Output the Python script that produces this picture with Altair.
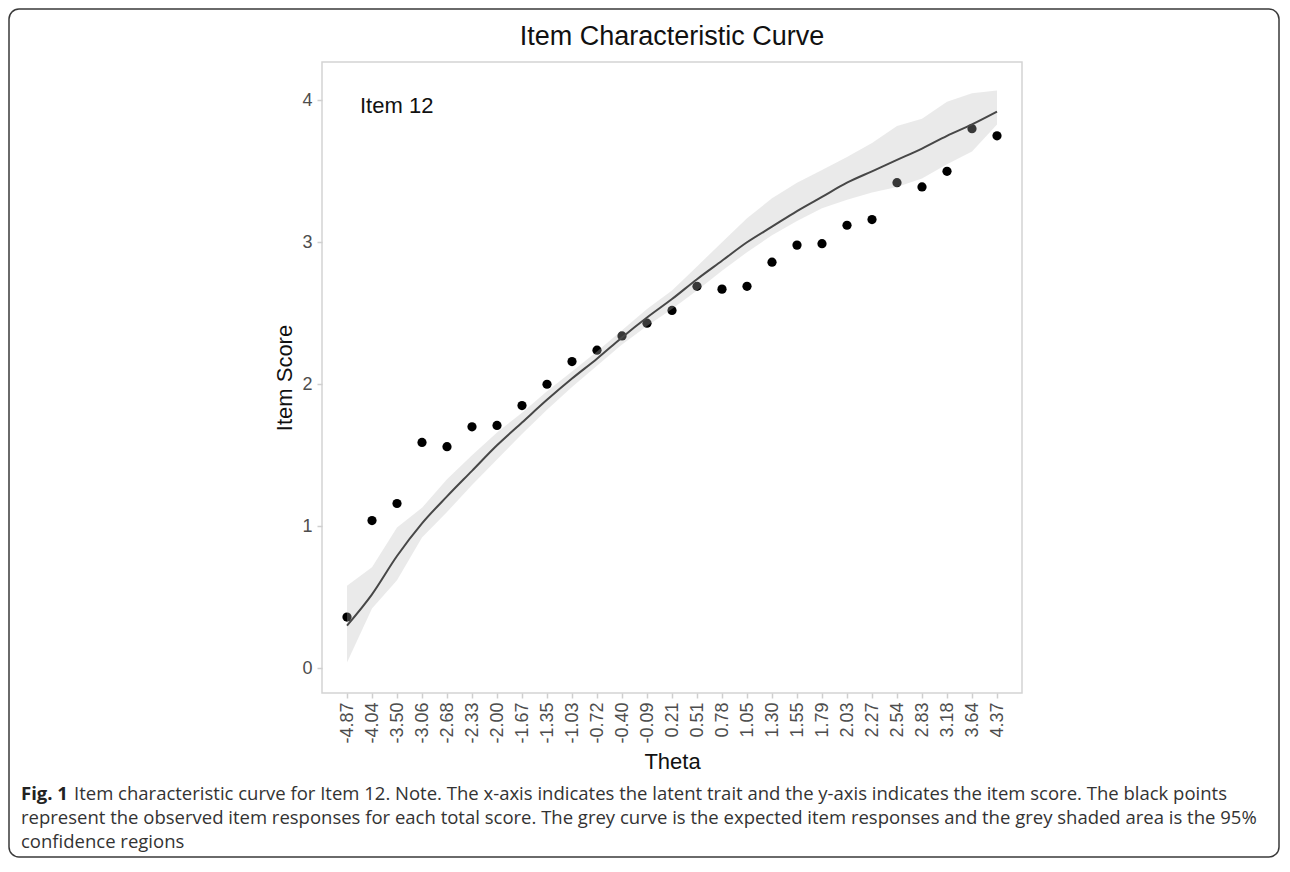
import altair as alt
import pandas as pd

theta_labels = ["-4.87", "-4.04", "-3.50", "-3.06", "-2.68", "-2.33", "-2.00", "-1.67",
                "-1.35", "-1.03", "-0.72", "-0.40", "-0.09", "0.21", "0.51", "0.78",
                "1.05", "1.30", "1.55", "1.79", "2.03", "2.27", "2.54", "2.83",
                "3.18", "3.64", "4.37"]
observed = [0.36, 1.04, 1.16, 1.59, 1.56, 1.70, 1.71, 1.85, 2.00, 2.16, 2.24, 2.34, 2.43,
            2.52, 2.69, 2.67, 2.69, 2.86, 2.98, 2.99, 3.12, 3.16, 3.42, 3.39, 3.50, 3.80, 3.75]
expected = [0.30, 0.52, 0.79, 1.02, 1.21, 1.39, 1.57, 1.73, 1.89, 2.04, 2.18, 2.33, 2.47,
            2.60, 2.74, 2.87, 3.00, 3.11, 3.22, 3.32, 3.42, 3.50, 3.58, 3.66, 3.75, 3.83, 3.92]
ci_upper = [0.58, 0.71, 0.99, 1.13, 1.33, 1.50, 1.66, 1.80, 1.95, 2.09, 2.23, 2.38, 2.53,
            2.66, 2.83, 3.00, 3.17, 3.31, 3.42, 3.51, 3.60, 3.70, 3.82, 3.87, 3.99, 4.05, 4.07]
ci_lower = [0.04, 0.42, 0.62, 0.92, 1.10, 1.29, 1.47, 1.65, 1.82, 1.98, 2.13, 2.28, 2.41,
            2.53, 2.66, 2.80, 2.93, 3.05, 3.15, 3.24, 3.30, 3.35, 3.39, 3.45, 3.55, 3.64, 3.83]

y_ticks = [0, 1, 2, 3, 4]
chart_title = "Item Characteristic Curve"
panel_label = "Item 12"
caption_bold = "Fig. 1"
caption_lines = [
    "Item characteristic curve for Item 12. Note. The x-axis indicates the latent trait and the y-axis indicates the item score. The black points",
    "represent the observed item responses for each total score. The grey curve is the expected item responses and the grey shaded area is the 95%",
    "confidence regions",
]

df = pd.DataFrame({
    "theta": theta_labels,
    "observed": observed,
    "expected": expected,
    "upper": ci_upper,
    "lower": ci_lower,
})

FONT = "Liberation Sans"
CAP_FONT = "Open Sans"

x_axis = alt.Axis(
    title="Theta", titleFont=FONT, titleFontSize=22, titleFontWeight="normal",
    titleColor="#111111", titleY=75, titleBaseline="alphabetic",
    labelFont=FONT, labelFontSize=18, labelColor="#4d4d4d", labelAngle=270,
    labelPadding=4, tickColor="#cfcfcf", tickSize=5, tickWidth=1.5,
    domain=False, grid=False,
)
y_axis = alt.Axis(
    title="Item Score", titleFont=FONT, titleFontSize=22, titleFontWeight="normal",
    titleColor="#111111", titleAngle=270, titleX=-31, titleY=315.5,
    titleBaseline="alphabetic", titleAlign="center",
    labelFont=FONT, labelFontSize=18, labelColor="#4d4d4d", labelPadding=5,
    tickColor="#cfcfcf", tickSize=5, tickWidth=1.5, values=y_ticks,
    domain=False, grid=False,
)

x_enc = alt.X("theta:O", sort=theta_labels,
              scale=alt.Scale(type="point", padding=1.28), axis=x_axis)
y_scale = alt.Scale(domain=[-0.175, 4.27], nice=False, zero=False)

base = alt.Chart(df)

points = base.mark_circle(size=85, color="#000000", opacity=1).encode(
    x=x_enc, y=alt.Y("observed:Q", scale=y_scale, axis=y_axis))
ribbon = base.mark_area(color="#b8b8b8", opacity=0.3).encode(
    x=x_enc, y=alt.Y("upper:Q", scale=y_scale, axis=y_axis), y2="lower:Q")
curve = base.mark_line(color="#474747", strokeWidth=2, interpolate="monotone").encode(
    x=x_enc, y=alt.Y("expected:Q", scale=y_scale, axis=y_axis))

one = alt.Data(values=[{"k": 1}])


def label(text, x, y, size, font=FONT, align="left", weight="normal", color="#111111"):
    return alt.Chart(one).mark_text(
        text=text, font=font, fontSize=size, fontWeight=weight, align=align,
        baseline="alphabetic", color=color,
    ).encode(x=alt.value(x), y=alt.value(y))


title_txt = label(chart_title, 350, -17, 27, align="center")
panel_txt = label(panel_label, 38, 51, 22)

cap_x = -301
cap_size = 18.5
cap_y = [738, 762, 786]
cap1b = label(caption_bold, cap_x, cap_y[0], cap_size, font=CAP_FONT, weight="bold", color="#222222")
cap1 = label(caption_lines[0], cap_x + 53, cap_y[0], cap_size, font=CAP_FONT, color="#333333")
cap2 = label(caption_lines[1], cap_x, cap_y[1], cap_size, font=CAP_FONT, color="#333333")
cap3 = label(caption_lines[2], cap_x, cap_y[2], cap_size, font=CAP_FONT, color="#333333")

border = alt.Chart(one).mark_rect(
    fill="transparent", stroke="#3a3a3a", strokeWidth=1.5, cornerRadius=10
).encode(x=alt.value(-313), x2=alt.value(957), y=alt.value(-53), y2=alt.value(795))

chart = alt.layer(
    points, ribbon, curve, title_txt, panel_txt, cap1b, cap1, cap2, cap3, border
).properties(width=700, height=631, padding=0).configure_view(
    stroke="#d4d4d4", strokeWidth=1.5
)

chart.save("out.html", embed_options={"renderer": "svg", "actions": False})
